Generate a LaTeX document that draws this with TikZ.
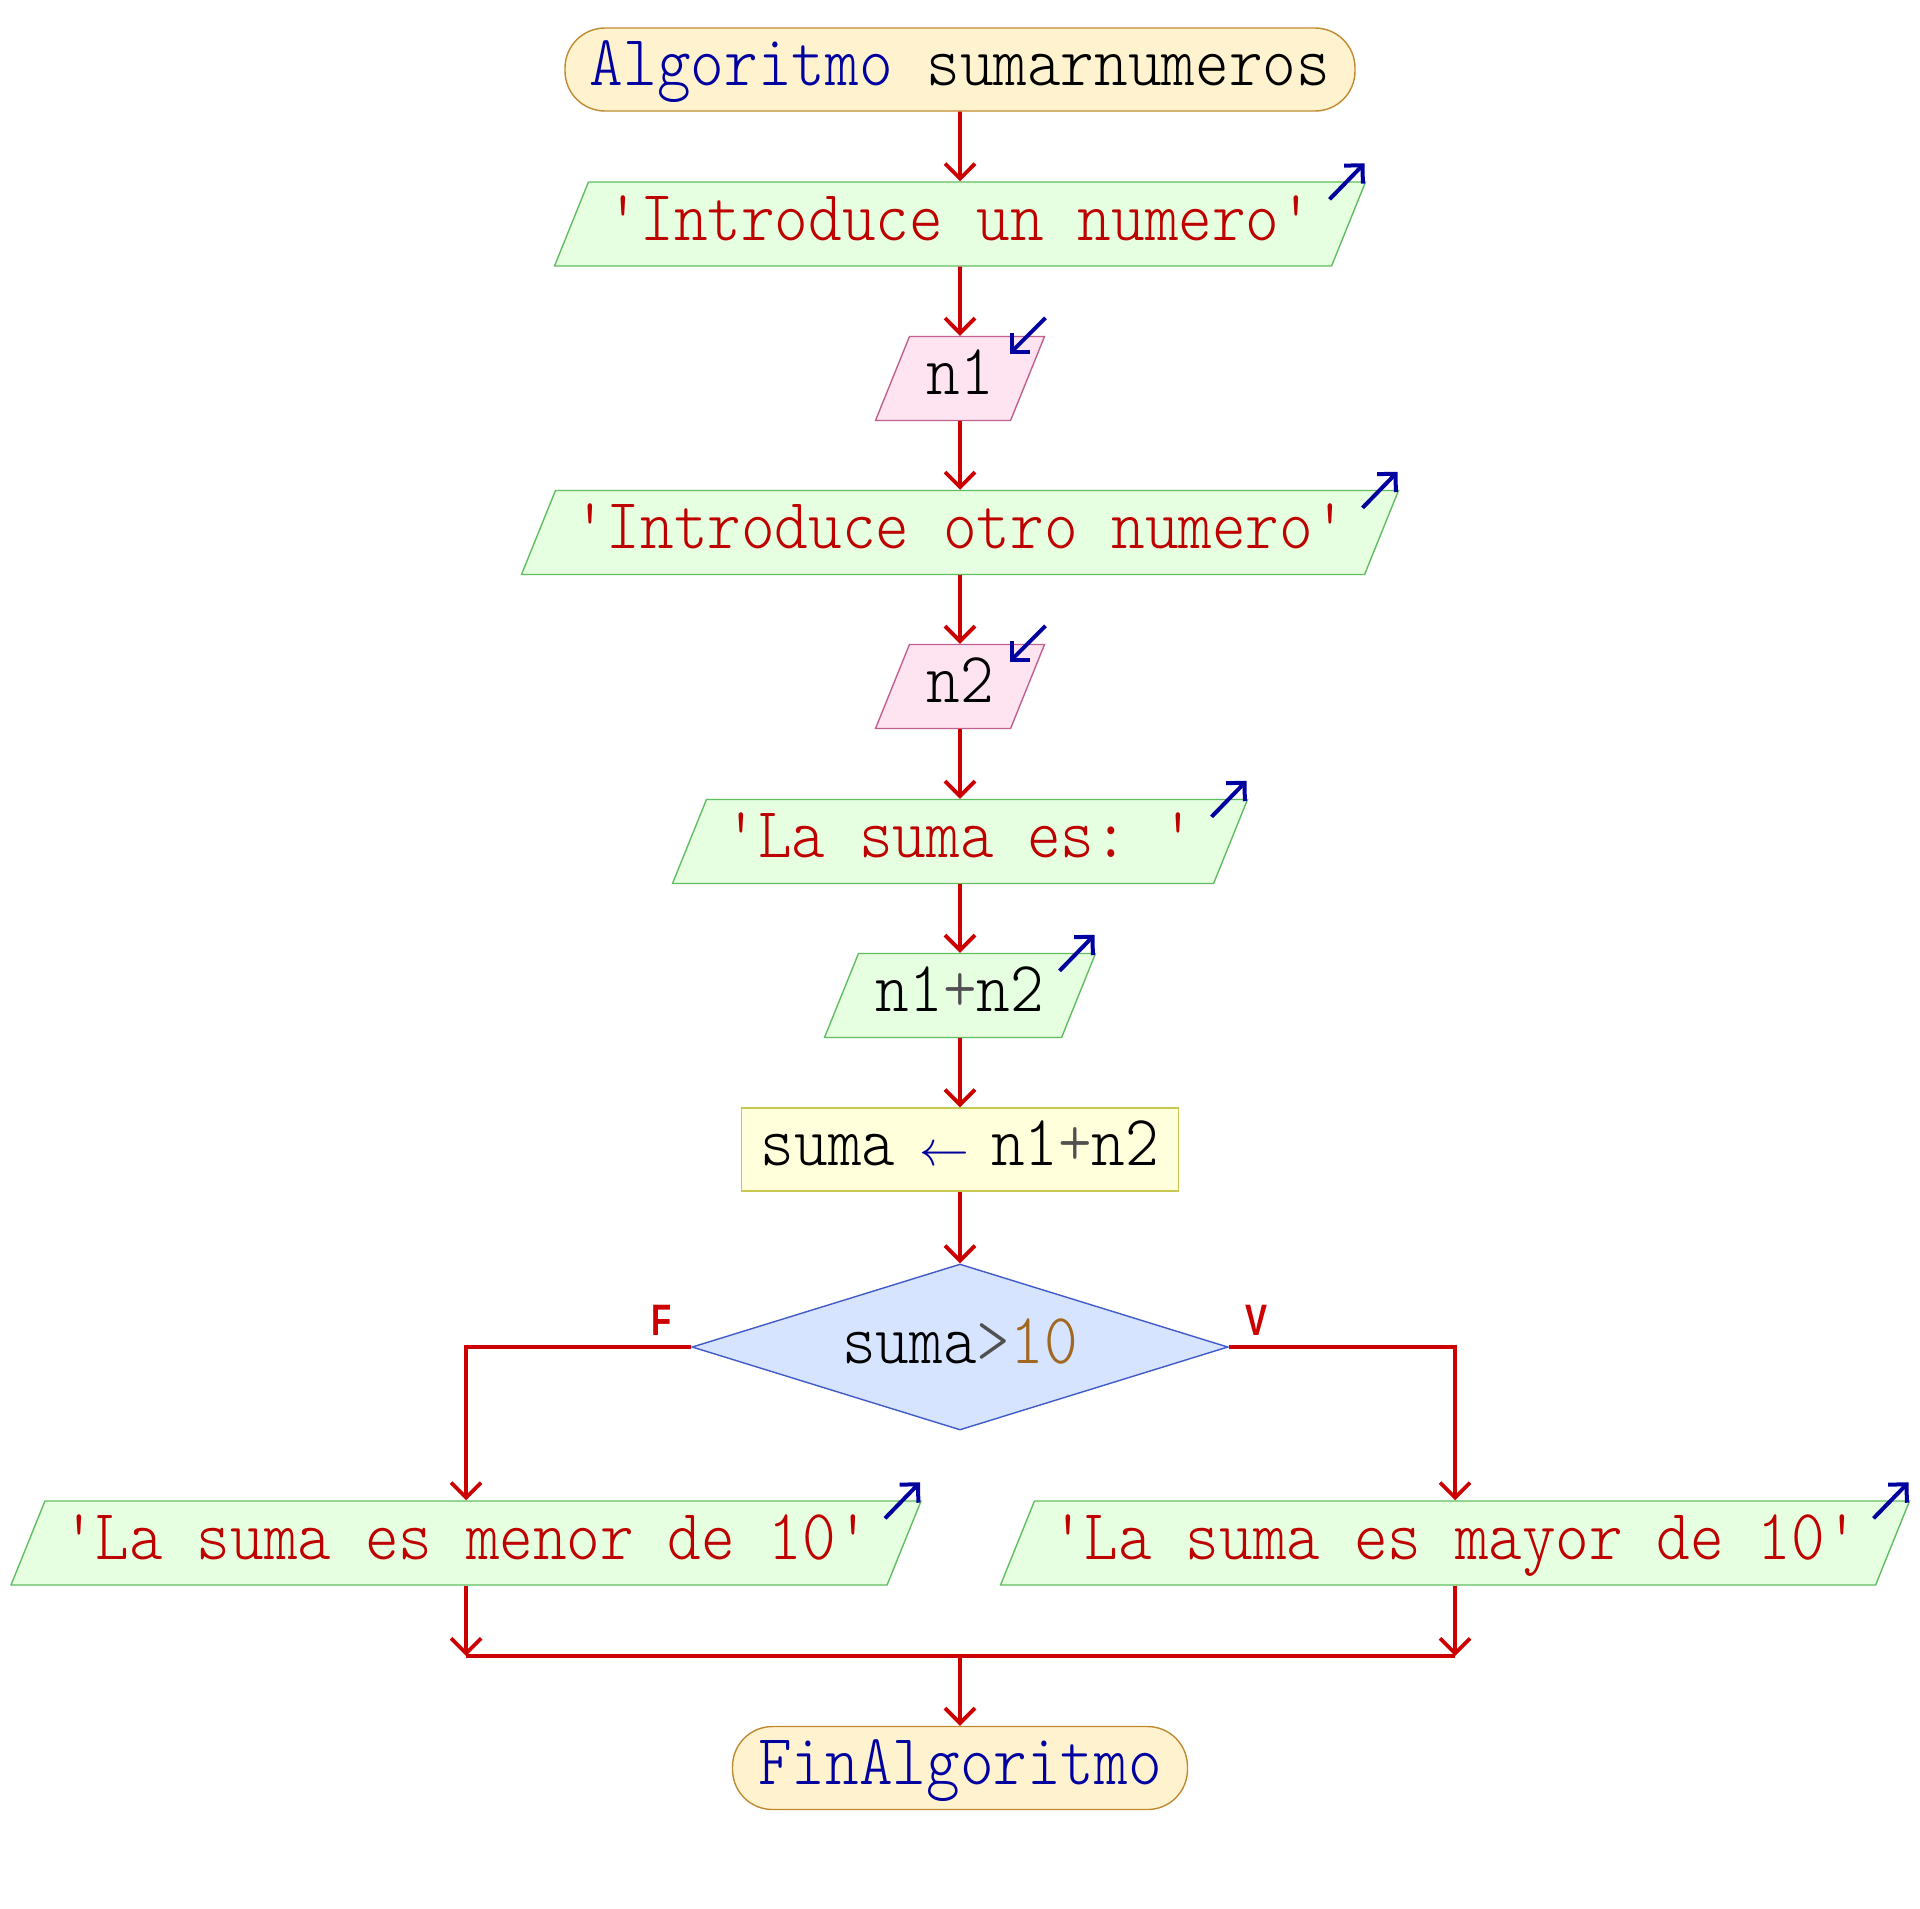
\documentclass[tikz,border=0pt]{standalone}
\usepackage{fontspec}
\setmainfont{Liberation Sans}
\setmonofont{Latin Modern Mono Light}[FakeStretch=0.89]
\newfontfamily\lblfont{Liberation Sans}[FakeStretch=0.75]
\usetikzlibrary{shapes.geometric,arrows.meta,calc}
\definecolor{termfill}{RGB}{255,242,206}
\definecolor{termdraw}{RGB}{192,138,48}
\definecolor{outfill}{RGB}{229,255,224}
\definecolor{outdraw}{RGB}{96,190,96}
\definecolor{infill}{RGB}{253,228,240}
\definecolor{indraw}{RGB}{192,96,144}
\definecolor{asgfill}{RGB}{255,255,220}
\definecolor{asgdraw}{RGB}{200,200,80}
\definecolor{decfill}{RGB}{214,228,255}
\definecolor{decdraw}{RGB}{64,90,200}
\definecolor{flowc}{RGB}{204,0,0}
\definecolor{kw}{RGB}{0,0,160}
\definecolor{strc}{RGB}{190,0,0}
\definecolor{opc}{RGB}{80,80,80}
\definecolor{numc}{RGB}{160,104,32}
\newcommand\asgarrow{\hspace{12pt}\textcolor{kw}{\fontsize{37}{37}\selectfont$\leftarrow$}\hspace{11pt}}
\tikzset{
  base/.style={font=\ttfamily\fontsize{36}{40}\selectfont, line width=0.7pt, inner sep=0pt, text height=22pt, text depth=6pt},
  term/.style={base, rectangle, rounded corners=20pt, fill=termfill, draw=termdraw, minimum height=41.5pt},
  para/.style={base, trapezium, trapezium left angle=68, trapezium right angle=112, trapezium stretches body, text height=29pt, text depth=13pt, minimum height=42pt},
  outbox/.style={para, fill=outfill, draw=outdraw},
  inbox/.style={para, fill=infill, draw=indraw},
  asg/.style={base, rectangle, fill=asgfill, draw=asgdraw, minimum height=41.5pt},
  dec/.style={base, diamond, aspect=3.2, fill=decfill, draw=decdraw, minimum width=268pt, minimum height=83pt},
  flow/.style={draw=flowc, line width=1.9pt, -{Straight Barb[length=7.5pt,width=15pt]}},
  flowline/.style={draw=flowc, line width=1.9pt},
  ioarrow/.style={draw=kw, line width=2pt, -{Straight Barb[length=6.5pt,width=13pt]}},
  lbl/.style={font=\lblfont\bfseries\fontsize{22}{24}\selectfont, text=flowc, inner sep=0pt}
}
\begin{document}
\begin{tikzpicture}[x=0.5pt,y=-0.5pt]
\useasboundingbox (0,0) rectangle (1920,1908);
\node[term, minimum width=395pt] (start) at (960,69.5) {\textcolor{kw}{Algoritmo} sumarnumeros};
\node[outbox, minimum width=405.5pt] (o1) at (960,224) {\textcolor{strc}{'Introduce un numero'}};
\node[inbox, minimum width=84.5pt] (i1) at (960,378.5) {n1};
\node[outbox, minimum width=438.5pt] (o2) at (960,532.5) {\textcolor{strc}{'Introduce otro numero'}};
\node[inbox, minimum width=84.5pt] (i2) at (960,686.5) {n2};
\node[outbox, minimum width=287.5pt] (o3) at (960,841.5) {\textcolor{strc}{'La suma es: '}};
\node[outbox, minimum width=135.5pt] (o4) at (960,995.5) {n1\textcolor{opc}{+}n2};
\node[asg, minimum width=218.5pt] (a1) at (960,1149.5) {suma\asgarrow n1\textcolor{opc}{+}n2};
\node[dec] (d1) at (960,1347) {suma\textcolor{opc}{>}\textcolor{numc}{10}};
\node[outbox, minimum width=455pt] (o5) at (466,1543) {\textcolor{strc}{'La suma es menor de 10'}};
\node[outbox, minimum width=454.5pt] (o6) at (1455,1543) {\textcolor{strc}{'La suma es mayor de 10'}};
\node[term, minimum width=227.5pt] (end) at (960,1768) {\textcolor{kw}{FinAlgoritmo}};
\node[lbl] (lf) at (662,1320) {F};
\node[lbl] (lv) at (1256,1320) {V};
\coordinate (j) at (960,1656);
% connectors
\draw[flow] (start.south) -- (o1.north);
\draw[flow] (o1.south) -- (i1.north);
\draw[flow] (i1.south) -- (o2.north);
\draw[flow] (o2.south) -- (i2.north);
\draw[flow] (i2.south) -- (o3.north);
\draw[flow] (o3.south) -- (o4.north);
\draw[flow] (o4.south) -- (a1.north);
\draw[flow] (a1.south) -- (d1.north);
\draw[flow] (d1.west) -| (o5.north);
\draw[flow] (d1.east) -| (o6.north);
\draw[flow] (o5.south) -- (o5.south |- j);
\draw[flow] (o6.south) -- (o6.south |- j);
\draw[flowline] (o5.south |- j) -- (o6.south |- j);
\draw[flow] (j) -- (end.north);
% io markers
\foreach \n in {o1,o2,o3,o4,o5,o6}{
  \draw[ioarrow] ($(\n.top right corner)+(-37,18)$) -- ($(\n.top right corner)+(-2,-18)$);
}
\foreach \n in {i1,i2}{
  \draw[ioarrow] ($(\n.top right corner)+(0,-18)$) -- ($(\n.top right corner)+(-36,18)$);
}
\end{tikzpicture}
\end{document}
